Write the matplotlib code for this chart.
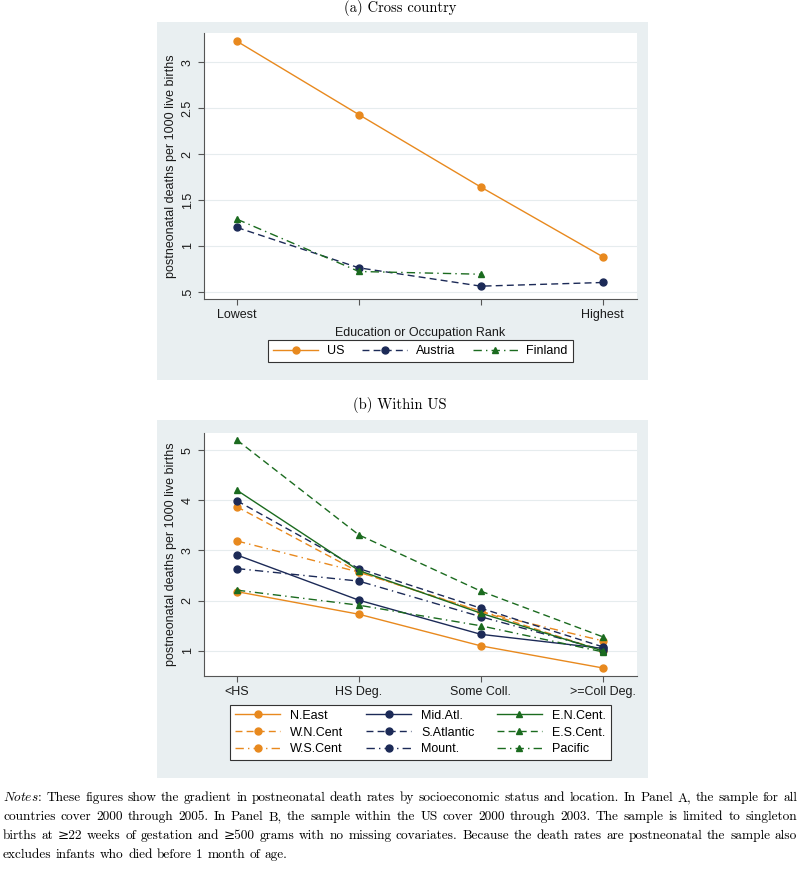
import matplotlib
matplotlib.use('Agg')
import matplotlib.pyplot as plt
from matplotlib.patches import Rectangle

plt.rcParams['font.family'] = ['Liberation Sans', 'DejaVu Sans']
plt.rcParams['mathtext.fontset'] = 'cm'

# ---------------- data ----------------
ranks = [1, 2, 3, 4]
rank_labels = ['Lowest', '', '', 'Highest']
us = [3.23, 2.43, 1.64, 0.88]
austria = [1.20, 0.76, 0.56, 0.60]
finland = [1.29, 0.72, 0.69]

edu_labels = ['<HS', 'HS Deg.', 'Some Coll.', '>=Coll Deg.']
region_names = ['N.East', 'W.N.Cent', 'W.S.Cent', 'Mid.Atl.', 'S.Atlantic', 'Mount.',
                'E.N.Cent.', 'E.S.Cent.', 'Pacific']
n_east = [2.18, 1.73, 1.10, 0.66]
w_n_cent = [3.87, 2.57, 1.79, 1.00]
w_s_cent = [3.19, 2.57, 1.78, 1.20]
mid_atl = [2.91, 2.01, 1.33, 1.05]
s_atlantic = [3.99, 2.64, 1.85, 1.08]
mount = [2.64, 2.39, 1.68, 1.02]
e_n_cent = [4.20, 2.60, 1.75, 1.00]
e_s_cent = [5.20, 3.31, 2.19, 1.28]
pacific = [2.21, 1.91, 1.50, 0.98]
region_values = [n_east, w_n_cent, w_s_cent, mid_atl, s_atlantic, mount,
                 e_n_cent, e_s_cent, pacific]

# ---------------- styles ----------------
ORANGE = '#E8891E'
NAVY = '#1C2A57'
GREEN = '#1B6B1F'
BG = '#E9EFF1'
SOLID = '-'
DASH = (0, (5, 3))
DASHDOT = (0, (6, 3, 1, 3))
region_colors = [ORANGE] * 3 + [NAVY] * 3 + [GREEN] * 3
region_styles = [SOLID, DASH, DASHDOT] * 3
region_markers = ['o'] * 6 + ['^'] * 3

W, H = 800, 872
fig = plt.figure(figsize=(W / 100, H / 100), dpi=100)


def fx(px):
    return px / W


def fy(py):
    return 1 - py / H


# background boxes
for top, bot in [(22, 380), (420, 778)]:
    fig.add_artist(Rectangle((fx(157), fy(bot)), fx(648) - fx(157), fy(top) - fy(bot),
                             transform=fig.transFigure, facecolor=BG, edgecolor='none',
                             zorder=0))


def style(ax):
    ax.set_facecolor('white')
    for s in ['top', 'right']:
        ax.spines[s].set_visible(False)
    for s in ['left', 'bottom']:
        ax.spines[s].set_color('#555555')
        ax.spines[s].set_linewidth(0.8)
    ax.tick_params(direction='out', length=4, width=0.8, color='#555555',
                   labelsize=9, labelcolor='#1a1a1a')
    ax.tick_params(axis='y', labelrotation=90)
    for lab in ax.get_yticklabels():
        lab.set_va('center')
    ax.yaxis.grid(True, color='#E6ECEE', lw=0.8)
    ax.set_axisbelow(True)
    ax.set_ylabel('postneonatal deaths per 1000 live births', fontsize=9,
                  color='#1a1a1a', labelpad=3)


# ---------------- panel A ----------------
axA = fig.add_axes([fx(204), fy(299), fx(637) - fx(204), fy(33) - fy(299)])
axA.set_zorder(1)
lA1, = axA.plot(ranks, us, color=ORANGE, ls=SOLID, lw=1.0, marker='o', ms=5, label='US')
lA2, = axA.plot(ranks, austria, color=NAVY, ls=DASH, lw=1.0, marker='o', ms=5, label='Austria')
lA3, = axA.plot(ranks[:len(finland)], finland, color=GREEN, ls=DASHDOT, lw=1.0, marker='^', ms=5,
                label='Finland')
axA.set_xlim(0.73, 4.28)
axA.set_ylim(0.42, 3.32)
axA.set_xticks(ranks)
axA.set_xticklabels(rank_labels)
axA.set_yticks([0.5, 1, 1.5, 2, 2.5, 3])
axA.set_yticklabels(['.5', '1', '1.5', '2', '2.5', '3'])
style(axA)
axA.set_xlabel('Education or Occupation Rank', fontsize=9, color='#1a1a1a', labelpad=4)
legA = axA.legend(handles=[lA1, lA2, lA3], ncol=3, loc='center',
                  bbox_to_anchor=(fx(420.5), fy(351)), bbox_transform=fig.transFigure,
                  fancybox=False, edgecolor='#333333', fontsize=9, handlelength=3.6,
                  columnspacing=1.4, borderpad=0.4, handletextpad=0.7, framealpha=1)
legA.get_frame().set_linewidth(0.8)

# ---------------- panel B ----------------
axB = fig.add_axes([fx(204), fy(676), fx(637) - fx(204), fy(433) - fy(676)])
axB.set_zorder(1)
xs = list(range(1, len(edu_labels) + 1))
handles = []
for name, vals, c, ls, m in zip(region_names, region_values, region_colors,
                                region_styles, region_markers):
    h, = axB.plot(xs, vals, color=c, ls=ls, lw=1.0, marker=m, ms=5, label=name)
    handles.append(h)
axB.set_xlim(0.73, 4.28)
axB.set_ylim(0.5, 5.34)
axB.set_xticks(xs)
axB.set_xticklabels(edu_labels)
axB.set_yticks([1, 2, 3, 4, 5])
axB.set_yticklabels(['1', '2', '3', '4', '5'])
style(axB)
legB = axB.legend(handles=handles, ncol=3, loc='center',
                  bbox_to_anchor=(fx(420.5), fy(732.5)), bbox_transform=fig.transFigure,
                  fancybox=False, edgecolor='#333333', fontsize=9, handlelength=3.6,
                  columnspacing=1.8, borderpad=0.4, handletextpad=0.8, labelspacing=0.38,
                  framealpha=1)
legB.get_frame().set_linewidth(0.8)

# ---------------- titles ----------------
fig.text(0.5, fy(8), '(a) Cross country', family='cmr10', fontsize=10.5,
         ha='center', va='center')
fig.text(0.5, fy(405), '(b) Within US', family='cmr10', fontsize=10.5,
         ha='center', va='center')

# ---------------- notes (justified) ----------------
note_lines = [
    r"$\mathit{Notes}$: These figures show the gradient in postneonatal death rates by socioeconomic status and location. In Panel A, the sample for all",
    r"countries cover 2000 through 2005. In Panel B, the sample within the US cover 2000 through 2003. The sample is limited to singleton",
    "births at \u226522 weeks of gestation and \u2265500 grams with no missing covariates. Because the death rates are postneonatal the sample also",
    r"excludes infants who died before 1 month of age.",
]
note_baselines = [801, 820, 839, 858]
NOTE_SIZE = 9.6
NOTE_FAMILY = ['cmr10', 'DejaVu Serif']
renderer = fig.canvas.get_renderer()
x_left, x_right = fx(3), fx(797)
space_w = NOTE_SIZE * 0.33 / 72 * 100 / W
for i, (line, yb) in enumerate(zip(note_lines, note_baselines)):
    words = line.split(' ')
    texts = [fig.text(0, fy(yb), w, family=NOTE_FAMILY, fontsize=NOTE_SIZE, va='baseline',
                      ha='left') for w in words]
    widths = [t.get_window_extent(renderer).width / W for t in texts]
    if i < len(note_lines) - 1:
        gap = (x_right - x_left - sum(widths)) / (len(words) - 1)
    else:
        gap = space_w
    x = x_left
    for t, w in zip(texts, widths):
        t.set_x(x)
        x += w + gap

fig.savefig('out.png', dpi=100)
